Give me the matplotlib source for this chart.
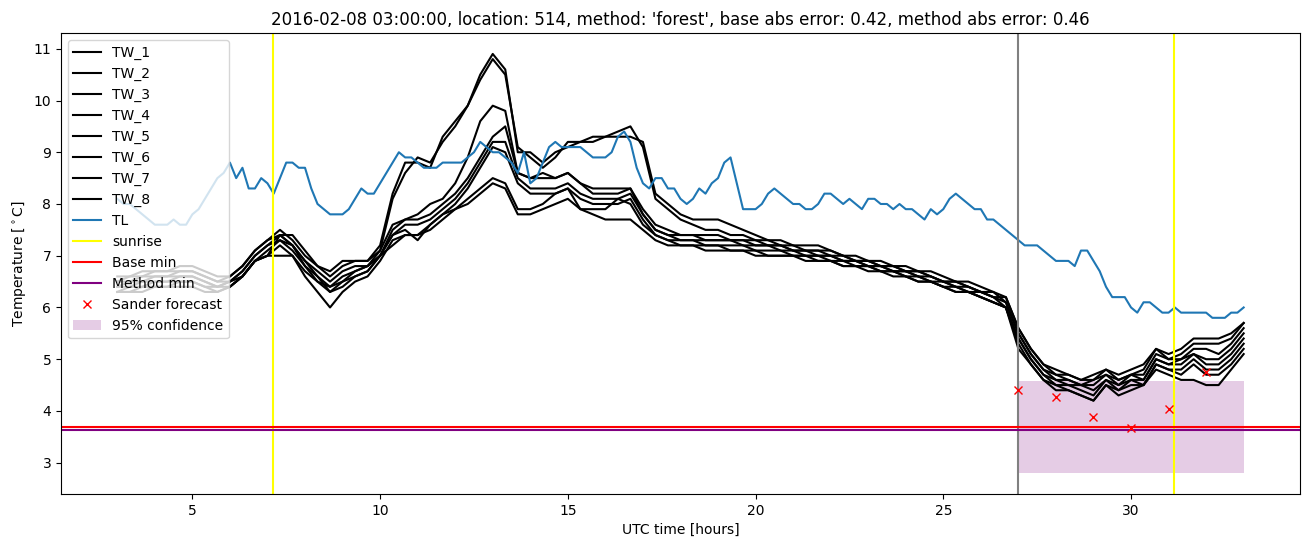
import numpy as np
import matplotlib
matplotlib.use("Agg")
import matplotlib.pyplot as plt

# time grids (hours UTC, day 0 = 2016-02-07)
tw_hours = np.linspace(3, 33, 91)    # 20 min steps
tl_hours = np.linspace(3, 33, 181)   # 10 min steps

# air temperature TL, one row per hour
tl = [8.1, 8.0, 8.0, 7.9, 7.8, 7.7,
      7.6, 7.6, 7.6, 7.7, 7.6, 7.6,
      7.8, 7.9, 8.1, 8.3, 8.5, 8.6,
      8.8, 8.5, 8.7, 8.3, 8.3, 8.5,
      8.4, 8.2, 8.5, 8.8, 8.8, 8.7,
      8.7, 8.3, 8.0, 7.9, 7.8, 7.8,
      7.8, 7.9, 8.1, 8.3, 8.2, 8.2,
      8.4, 8.6, 8.8, 9.0, 8.9, 8.9,
      8.8, 8.7, 8.7, 8.7, 8.8, 8.8,
      8.8, 8.8, 8.9, 9.0, 9.2, 9.1,
      9.0, 9.0, 8.9, 8.8, 8.6, 9.0,
      8.4, 8.5, 8.8, 9.1, 9.2, 9.1,
      9.1, 9.1, 9.1, 9.0, 8.9, 8.9,
      8.9, 9.0, 9.3, 9.4, 9.2, 8.7,
      8.4, 8.3, 8.5, 8.5, 8.3, 8.3,
      8.1, 8.0, 8.1, 8.3, 8.2, 8.4,
      8.5, 8.8, 8.9, 8.4, 7.9, 7.9,
      7.9, 8.0, 8.2, 8.3, 8.2, 8.1,
      8.0, 8.0, 7.9, 7.9, 8.0, 8.2,
      8.2, 8.1, 8.0, 8.1, 8.0, 7.9,
      8.1, 8.1, 8.0, 8.0, 7.9, 8.0,
      7.9, 7.9, 7.8, 7.7, 7.9, 7.8,
      7.9, 8.1, 8.2, 8.1, 8.0, 7.9,
      7.9, 7.7, 7.7, 7.6, 7.5, 7.4,
      7.3, 7.2, 7.2, 7.2, 7.1, 7.0,
      6.9, 6.9, 6.9, 6.8, 7.1, 7.1,
      6.9, 6.7, 6.4, 6.2, 6.2, 6.2,
      6.0, 5.9, 6.1, 6.1, 6.0, 5.9,
      5.9, 6.0, 5.9, 5.9, 5.9, 5.9,
      5.9, 5.8, 5.8, 5.8, 5.9, 5.9,
      6.0]

# road/wet-bulb temperatures TW_1..TW_8
tw_1 = [6.6, 6.6, 6.7, 6.7, 6.7, 6.8, 6.8, 6.7, 6.6, 6.6,
        6.8, 7.1, 7.3, 7.4, 7.4, 7.1, 6.8, 6.7, 6.9, 6.9, 6.9, 7.2,
        8.2, 8.8, 8.8, 8.7, 9.3, 9.6, 9.9, 10.4, 10.8, 10.5, 9.1, 8.9,
        8.7, 8.9, 9.2, 9.2, 9.3, 9.3, 9.3, 9.3, 9.2, 8.2, 8.0, 7.8,
        7.7, 7.7, 7.7, 7.6, 7.5, 7.4, 7.3, 7.3, 7.2, 7.2, 7.2, 7.1, 7.0,
        7.0, 6.9, 6.9, 6.8, 6.8, 6.7, 6.7, 6.6, 6.5, 6.5, 6.4, 6.3, 6.2,
        5.6, 5.2, 4.9, 4.8, 4.7, 4.6, 4.7, 4.8, 4.7, 4.8, 4.9, 5.2, 5.1,
        5.2, 5.4, 5.4, 5.4, 5.5, 5.7]
tw_2 = [6.5, 6.6, 6.6, 6.7, 6.7, 6.7, 6.7, 6.6, 6.5, 6.6,
        6.8, 7.1, 7.3, 7.5, 7.3, 7.0, 6.8, 6.6, 6.8, 6.9, 6.9, 7.1,
        8.1, 8.6, 8.9, 8.8, 9.2, 9.5, 9.9, 10.5, 10.9, 10.6, 9.0, 9.0,
        8.8, 9.0, 9.1, 9.2, 9.2, 9.3, 9.4, 9.5, 9.1, 8.1, 7.9, 7.7,
        7.6, 7.5, 7.5, 7.4, 7.4, 7.3, 7.3, 7.2, 7.2, 7.1, 7.1, 7.1, 7.0,
        6.9, 6.9, 6.8, 6.8, 6.7, 6.7, 6.6, 6.5, 6.5, 6.4, 6.3, 6.2, 6.2,
        5.6, 5.2, 4.9, 4.7, 4.7, 4.6, 4.6, 4.8, 4.6, 4.7, 4.8, 5.2, 5.0,
        5.1, 5.3, 5.3, 5.3, 5.4, 5.7]
tw_3 = [6.5, 6.5, 6.6, 6.6, 6.6, 6.7, 6.7, 6.6, 6.5, 6.5,
        6.7, 7.0, 7.2, 7.4, 7.2, 6.9, 6.7, 6.5, 6.7, 6.8, 6.8, 7.1,
        7.6, 7.7, 7.8, 8.0, 8.1, 8.4, 8.9, 9.6, 9.9, 9.8, 8.6, 8.5,
        8.6, 8.5, 8.6, 8.4, 8.3, 8.3, 8.3, 8.3, 7.9, 7.6, 7.5, 7.4,
        7.4, 7.4, 7.4, 7.3, 7.3, 7.3, 7.2, 7.2, 7.1, 7.1, 7.1, 7.0, 7.0,
        6.9, 6.9, 6.8, 6.8, 6.7, 6.7, 6.6, 6.5, 6.5, 6.4, 6.3, 6.3, 6.1,
        5.5, 5.1, 4.8, 4.7, 4.6, 4.5, 4.6, 4.7, 4.6, 4.7, 4.7, 5.1, 5.0,
        5.0, 5.2, 5.2, 5.1, 5.3, 5.6]
tw_4 = [6.4, 6.5, 6.5, 6.6, 6.6, 6.6, 6.6, 6.5, 6.4, 6.5,
        6.7, 7.0, 7.2, 7.3, 7.2, 6.9, 6.6, 6.4, 6.6, 6.7, 6.8, 7.0,
        7.5, 7.7, 7.7, 7.8, 8.0, 8.2, 8.5, 8.9, 9.3, 9.5, 8.6, 8.5,
        8.5, 8.5, 8.6, 8.4, 8.2, 8.2, 8.2, 8.3, 7.8, 7.5, 7.4, 7.4,
        7.4, 7.3, 7.3, 7.3, 7.3, 7.2, 7.2, 7.2, 7.1, 7.1, 7.0, 7.0, 6.9,
        6.9, 6.8, 6.8, 6.7, 6.7, 6.6, 6.6, 6.5, 6.4, 6.4, 6.3, 6.2, 6.1,
        5.5, 5.1, 4.8, 4.6, 4.6, 4.5, 4.5, 4.7, 4.5, 4.7, 4.6, 5.0, 4.9,
        5.0, 5.1, 5.0, 5.0, 5.2, 5.5]
tw_5 = [6.4, 6.4, 6.5, 6.5, 6.5, 6.6, 6.6, 6.5, 6.4, 6.5,
        6.6, 6.9, 7.1, 7.3, 7.1, 6.8, 6.5, 6.4, 6.5, 6.7, 6.8, 7.0,
        7.4, 7.6, 7.6, 7.7, 7.9, 8.1, 8.4, 8.8, 9.2, 9.2, 8.5, 8.3,
        8.3, 8.3, 8.4, 8.2, 8.1, 8.1, 8.1, 8.2, 7.8, 7.5, 7.4, 7.3,
        7.3, 7.3, 7.3, 7.3, 7.2, 7.2, 7.2, 7.1, 7.1, 7.0, 7.0, 7.0, 6.9,
        6.9, 6.8, 6.8, 6.7, 6.7, 6.6, 6.5, 6.5, 6.4, 6.3, 6.3, 6.2, 6.0,
        5.4, 5.0, 4.7, 4.6, 4.5, 4.5, 4.4, 4.6, 4.5, 4.6, 4.6, 5.0, 4.9,
        4.9, 5.1, 4.9, 4.9, 5.1, 5.4]
tw_6 = [6.3, 6.4, 6.4, 6.5, 6.5, 6.5, 6.5, 6.4, 6.4, 6.4,
        6.6, 6.9, 7.0, 7.2, 7.0, 6.7, 6.5, 6.3, 6.5, 6.6, 6.7, 7.0,
        7.4, 7.5, 7.3, 7.6, 7.8, 8.0, 8.3, 8.7, 9.1, 9.0, 8.4, 8.2,
        8.2, 8.2, 8.3, 8.1, 8.0, 8.0, 8.0, 8.1, 7.7, 7.4, 7.3, 7.3,
        7.3, 7.2, 7.2, 7.2, 7.2, 7.1, 7.1, 7.1, 7.0, 7.0, 7.0, 6.9, 6.9,
        6.8, 6.8, 6.7, 6.7, 6.6, 6.6, 6.5, 6.4, 6.4, 6.3, 6.2, 6.1, 6.0,
        5.4, 5.0, 4.7, 4.5, 4.5, 4.4, 4.3, 4.6, 4.4, 4.6, 4.5, 4.9, 4.8,
        4.8, 5.0, 4.8, 4.8, 5.0, 5.3]
tw_7 = [6.3, 6.3, 6.4, 6.4, 6.4, 6.5, 6.5, 6.4, 6.3, 6.4,
        6.6, 6.9, 7.0, 7.0, 7.0, 6.6, 6.3, 6.0, 6.3, 6.5, 6.6, 6.9,
        7.3, 7.4, 7.4, 7.6, 7.8, 7.9, 8.1, 8.3, 8.5, 8.4, 7.9, 7.9,
        8.0, 8.2, 8.3, 7.9, 7.9, 7.9, 8.1, 8.0, 7.6, 7.4, 7.3, 7.2,
        7.2, 7.2, 7.2, 7.1, 7.1, 7.1, 7.0, 7.0, 7.0, 7.0, 6.9, 6.9, 6.8,
        6.8, 6.8, 6.7, 6.7, 6.6, 6.5, 6.5, 6.4, 6.3, 6.3, 6.2, 6.1, 6.0,
        5.3, 4.9, 4.6, 4.5, 4.4, 4.3, 4.2, 4.5, 4.4, 4.5, 4.5, 4.9, 4.8,
        4.7, 4.9, 4.7, 4.7, 4.9, 5.2]
tw_8 = [6.3, 6.3, 6.3, 6.4, 6.4, 6.4, 6.4, 6.3, 6.3, 6.4,
        6.6, 6.9, 7.0, 7.4, 7.2, 6.8, 6.6, 6.3, 6.4, 6.6, 6.7, 7.0,
        7.2, 7.4, 7.4, 7.5, 7.7, 7.9, 8.0, 8.2, 8.4, 8.3, 7.8, 7.8,
        7.9, 8.0, 8.1, 7.9, 7.8, 7.7, 7.7, 7.7, 7.5, 7.3, 7.2, 7.2,
        7.2, 7.1, 7.1, 7.1, 7.1, 7.0, 7.0, 7.0, 7.0, 6.9, 6.9, 6.9, 6.8,
        6.8, 6.7, 6.7, 6.6, 6.6, 6.5, 6.5, 6.4, 6.3, 6.3, 6.2, 6.1, 6.0,
        5.2, 4.9, 4.6, 4.4, 4.4, 4.3, 4.2, 4.5, 4.3, 4.4, 4.5, 4.8, 4.7,
        4.6, 4.6, 4.5, 4.5, 4.8, 5.1]
tw_all = [tw_1, tw_2, tw_3, tw_4, tw_5, tw_6, tw_7, tw_8]

sunrise_hours = [7.16, 31.15]
forecast_time = 27
base_min = 3.69
method_min = 3.64

sander_hours = [27, 28, 29, 30, 31, 32]
sander_temp = [4.41, 4.26, 3.89, 3.68, 4.04, 4.76]

conf_hours = [27, 33]
conf_low = [2.8, 2.8]
conf_high = [4.58, 4.58]

fig, ax = plt.subplots(figsize=(13.11, 5.47), dpi=100)
fig.subplots_adjust(left=0.0465, right=0.9916, top=0.9397, bottom=0.0969)

for i, series in enumerate(tw_all):
    ax.plot(tw_hours, series, color='black', label='TW_%d' % (i + 1))
ax.plot(tl_hours, tl, color='tab:blue', label='TL')

for j, h in enumerate(sunrise_hours):
    ax.axvline(h, color='yellow', label='sunrise' if j == 0 else None)
ax.axvline(forecast_time, color='gray')
ax.axhline(base_min, color='red', label='Base min')
ax.axhline(method_min, color='purple', label='Method min')
ax.plot(sander_hours, sander_temp, 'rx', label='Sander forecast')
ax.fill_between(conf_hours, conf_low, conf_high, color='purple', alpha=0.2,
                linewidth=0, label='95% confidence')

ax.set_title("2016-02-08 03:00:00, location: 514, method: 'forest', "
             "base abs error: 0.42, method abs error: 0.46")
ax.set_xlabel('UTC time [hours]')
ax.set_ylabel(r'Temperature [$^\circ$C]')
ax.legend(loc='upper left')

plt.savefig('out.png')
